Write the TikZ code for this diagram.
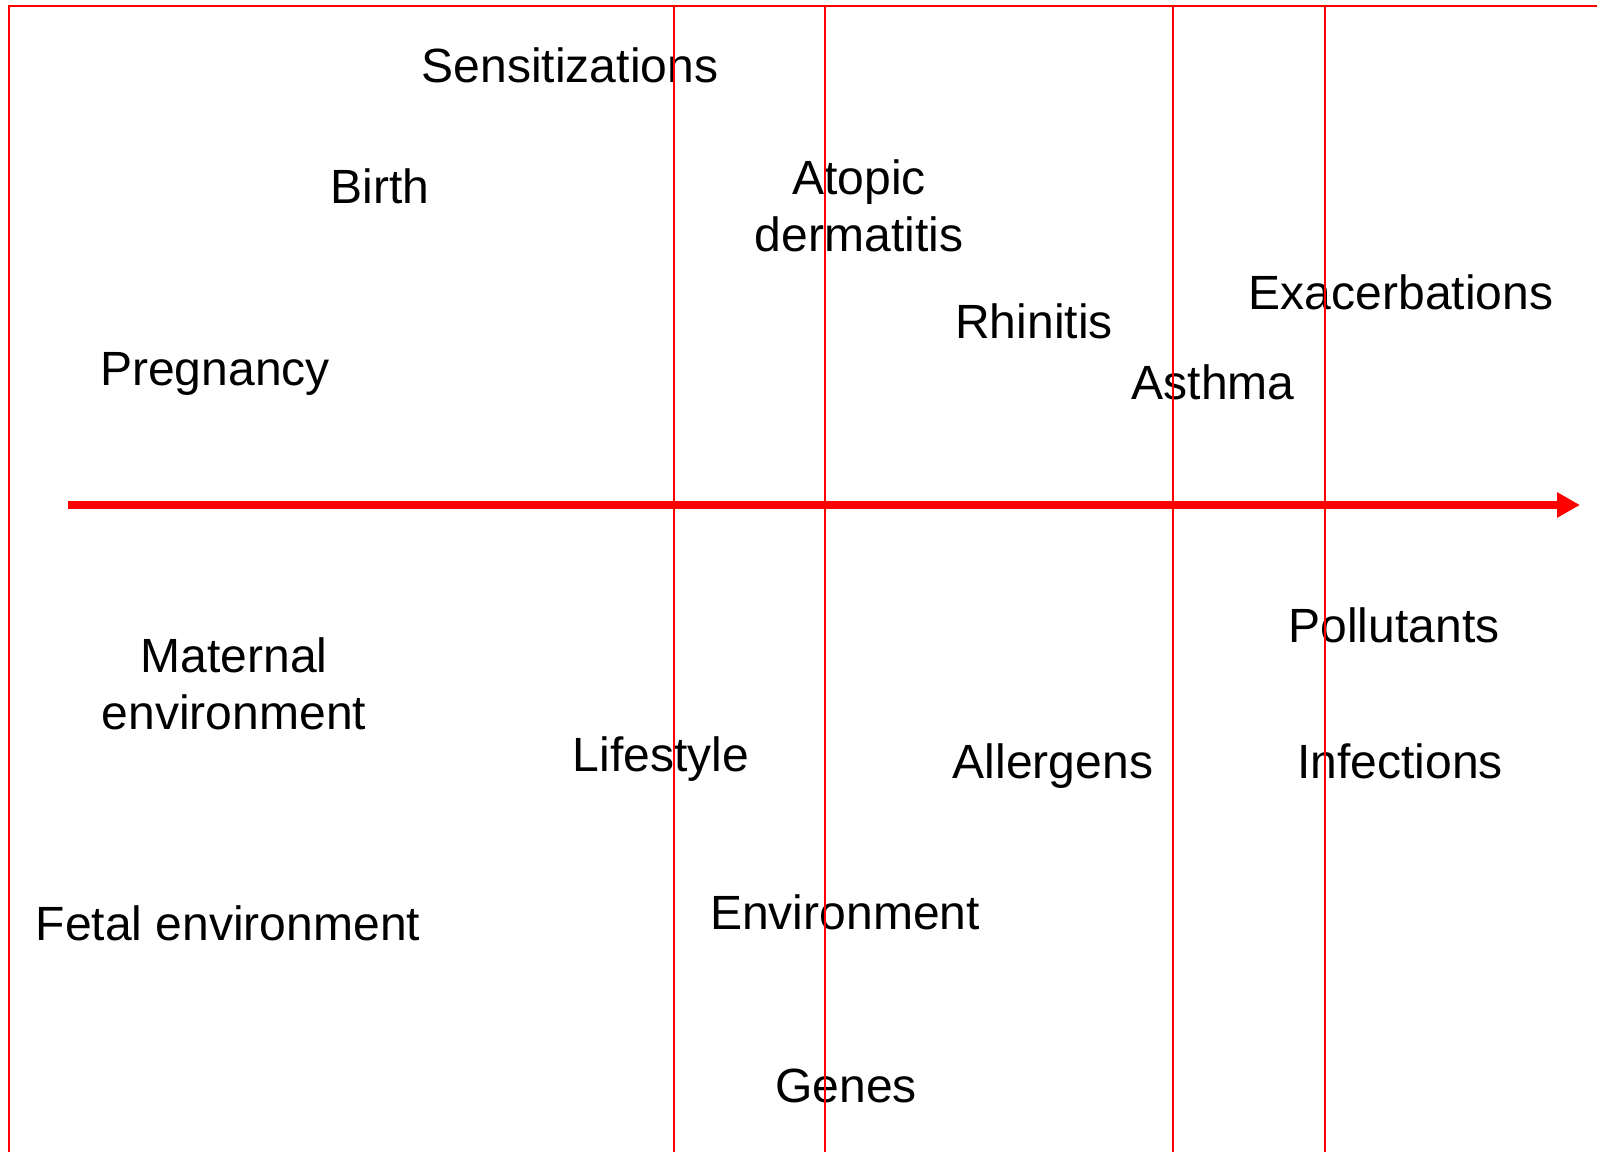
\documentclass[tikz,border=0pt]{standalone}
\usepackage{fontspec}
\setmainfont{Liberation Sans}
\usepackage{tikz}
\usetikzlibrary{arrows.meta, positioning}
\colorlet{frameline}{red}
\colorlet{timeline}{red}

\tikzset{
  lbl/.style={inner sep=0pt, align=center, font=\fontsize{13.66}{16.3}\selectfont},
  divider/.style={draw=frameline, line width=0.55pt},
}

\begin{document}
\begin{tikzpicture}[x=0.01cm, y=-0.01cm]
    \useasboundingbox (0,0) rectangle (1597,1152);
    % labels above the time axis
    \node[lbl] (sens) at (570,65) {Sensitizations};
    \node[lbl] (birth) at (380,186) {Birth};
    \node[lbl] (preg) at (215,374) {Pregnancy};
    \node[lbl] (atopic) at (859,206) {Atopic\\dermatitis};
    \node[lbl] (rhin) at (1034,321) {Rhinitis};
    \node[lbl] (exac) at (1401,292) {Exacerbations};
    \node[lbl] (asthma) at (1213,382) {Asthma};
    % labels below the time axis
    \node[lbl] (maternal) at (234,684) {Maternal\\environment};
    \node[lbl] (life) at (661,759) {Lifestyle};
    \node[lbl] (allerg) at (1053,766) {Allergens};
    \node[lbl] (pollut) at (1394,625) {Pollutants};
    \node[lbl] (infect) at (1400,761) {Infections};
    \node[lbl] (fetal) at (228,923) {Fetal environment};
    \node[lbl] (envir) at (845,912) {Environment};
    \node[lbl] (genes) at (846,1086) {Genes};
    % frame and dividers
    \draw[divider] (1597,6) -- (9,6) -- (9,1152);
    \draw[divider] (674,6) -- (674,1152);
    \draw[divider] (825,6) -- (825,1152);
    \draw[divider] (1173,6) -- (1173,1152);
    \draw[divider] (1325,6) -- (1325,1152);
    % time axis
    \coordinate (tstart) at (68,505);
    \coordinate (tend) at (1580,505);
    \draw[timeline, line width=2.3pt, -{Triangle[length=0.23cm, width=0.24cm]}] (tstart) -- (tend);
  \end{tikzpicture}
\end{document}
